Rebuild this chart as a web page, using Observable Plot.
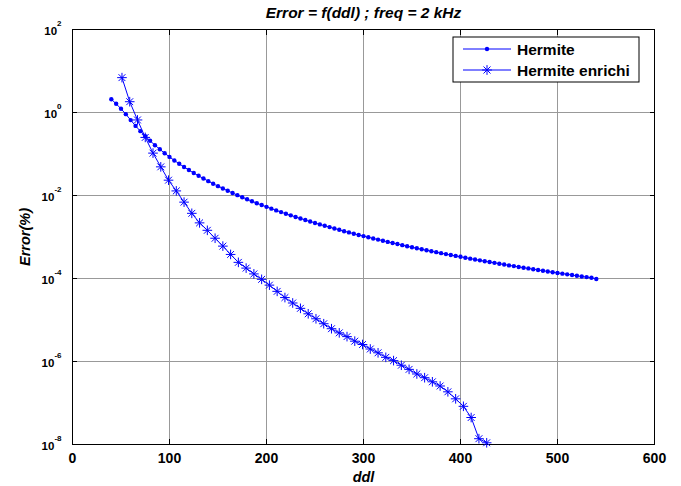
<!DOCTYPE html>
<html><head><meta charset="utf-8">
<script src="https://cdn.jsdelivr.net/npm/d3@7"></script>
<script src="https://cdn.jsdelivr.net/npm/@observablehq/plot@0.6"></script>
<style>
body{margin:0;background:#fff}
#chart{position:relative;width:681px;height:486px}
</style>
</head><body><div id="chart"></div>
<script>
const titleText = "Error = f(ddl) ; freq = 2 kHz";
const xLabel = "ddl";
const yLabel = "Error(%)";
const seriesNames = ["Hermite", "Hermite enrichi"];
const xTicks = [0, 100, 200, 300, 400, 500, 600];
const yTicks = [1e-8, 1e-6, 1e-4, 1e-2, 1, 1e2];

const hermiteDdl = [40,45,50,55,60,65,70,75,80,85,90,95,100,105,110,115,120,125,130,135,140,145,150,155,160,165,170,175,180,185,190,195,200,205,210,215,220,225,230,235,240,245,250,255,260,265,270,275,280,285,290,295,300,305,310,315,320,325,330,335,340,345,350,355,360,365,370,375,380,385,390,395,400,405,410,415,420,425,430,435,440,445,450,455,460,465,470,475,480,485,490,495,500,505,510,515,520,525,530,535,540];
const hermiteErr = [2.09,1.62,1.23,0.912,0.656,0.476,0.355,0.269,0.208,0.163,0.130,0.1045,0.0851,0.0700,0.0581,0.0486,0.0410,0.0348,0.0298,0.0256,0.0222,0.0192,0.0168,0.0148,0.0130,0.0115,0.0102,0.00908,0.00811,0.00726,0.00653,0.00589,0.00532,0.00482,0.00438,0.00398,0.00363,0.00332,0.00304,0.00279,0.00256,0.00236,0.00218,0.00201,0.00186,0.00173,0.00160,0.00149,0.00138,0.00129,0.00120,0.00112,0.00105,9.84e-4,9.20e-4,8.65e-4,8.13e-4,7.62e-4,7.18e-4,6.76e-4,6.37e-4,6.01e-4,5.68e-4,5.36e-4,5.07e-4,4.80e-4,4.54e-4,4.31e-4,4.08e-4,3.87e-4,3.68e-4,3.50e-4,3.33e-4,3.16e-4,3.01e-4,2.87e-4,2.74e-4,2.61e-4,2.49e-4,2.38e-4,2.27e-4,2.17e-4,2.07e-4,1.99e-4,1.90e-4,1.82e-4,1.75e-4,1.67e-4,1.60e-4,1.54e-4,1.48e-4,1.42e-4,1.36e-4,1.31e-4,1.26e-4,1.21e-4,1.16e-4,1.12e-4,1.08e-4,1.04e-4,0.97e-4];

const enrichiDdl = [51,59,67,75,83,91,99,107,115,123,131,139,147,155,163,171,179,187,195,203,211,219,227,235,243,251,259,267,275,283,291,299,307,315,323,331,339,347,355,363,371,379,387,395,403,411,419,427];
const enrichiErr = [6.92,1.82,0.661,0.251,0.105,0.049,0.0234,0.0129,0.00692,0.00372,0.00219,0.00145,9.33e-4,6.03e-4,3.80e-4,2.45e-4,1.78e-4,1.29e-4,9.55e-5,6.92e-5,4.90e-5,3.47e-5,2.57e-5,1.91e-5,1.41e-5,1.07e-5,8.13e-6,6.17e-6,4.90e-6,3.98e-6,3.09e-6,2.57e-6,2.00e-6,1.62e-6,1.26e-6,1.05e-6,8.13e-7,6.46e-7,5.01e-7,4.07e-7,3.24e-7,2.57e-7,1.86e-7,1.26e-7,8.32e-8,4.47e-8,1.38e-8,1.10e-8];

const hermite = hermiteDdl.map((x, i) => ({ddl: x, err: hermiteErr[i]}));
const enrichi = enrichiDdl.map((x, i) => ({ddl: x, err: enrichiErr[i]}));

const BLUE = "#0000ff";
const FONT = "'Liberation Sans', Arial, Helvetica, sans-serif";

const chart = Plot.plot({
  width: 681, height: 486,
  marginLeft: 72, marginRight: 27, marginTop: 29, marginBottom: 42,
  style: {fontFamily: FONT, fontSize: "12px", fontWeight: "bold", background: "#fff", color: "#000", overflow: "visible"},
  x: {domain: [0, 600], ticks: xTicks},
  y: {type: "log", domain: [1e-8, 1e2], ticks: yTicks},
  marks: [
    Plot.gridX(xTicks.slice(1, -1), {stroke: "#999", strokeOpacity: 1}),
    Plot.gridY(yTicks.slice(1, -1), {stroke: "#999", strokeOpacity: 1}),
    Plot.frame({stroke: "#000", strokeWidth: 1}),
    // inward tick marks on all four sides
    Plot.axisX(xTicks, {anchor: "bottom", tickSize: -5, fill: "none", label: null}),
    Plot.axisX(xTicks, {anchor: "top", tickSize: -5, fill: "none", label: null}),
    Plot.axisY(yTicks, {anchor: "left", tickSize: -5, fill: "none", label: null}),
    Plot.axisY(yTicks, {anchor: "right", tickSize: -5, fill: "none", label: null}),
    // tick labels
    Plot.axisX(xTicks, {tickSize: 0, tickPadding: 9, label: null, fontSize: 14}),
    Plot.axisY(yTicks, {tickSize: 0, tickPadding: 11, label: null, fontSize: 11.5, dy: 1.5,
      tickFormat: d => String(Math.round(Math.log10(d)))}),
    Plot.line(hermite, {x: "ddl", y: "err", stroke: BLUE, strokeWidth: 1}),
    Plot.dot(hermite, {x: "ddl", y: "err", r: 2.2, fill: BLUE, stroke: "none"}),
    Plot.line(enrichi, {x: "ddl", y: "err", stroke: BLUE, strokeWidth: 1}),
    Plot.dot(enrichi, {x: "ddl", y: "err", symbol: "plus", r: 3.2, stroke: BLUE, strokeWidth: 1}),
    Plot.dot(enrichi, {x: "ddl", y: "err", symbol: "times", r: 3.2, stroke: BLUE, strokeWidth: 1}),
    Plot.text([titleText], {frameAnchor: "top", dy: -16, textAnchor: "middle", lineAnchor: "middle",
      fontSize: 15.5, fontWeight: "bold", fontStyle: "italic"}),
    Plot.text([xLabel], {frameAnchor: "bottom", dy: 33, textAnchor: "middle", lineAnchor: "middle",
      fontSize: 14.5, fontWeight: "bold", fontStyle: "italic"}),
    Plot.text([yLabel], {frameAnchor: "left", dx: -47, rotate: -90, textAnchor: "middle", lineAnchor: "middle",
      fontSize: 14.5, fontWeight: "bold", fontStyle: "italic"})
  ]
});

document.getElementById("chart").appendChild(chart);

// superscript exponents on log y tick labels
d3.select(chart).selectAll('g[aria-label="y-axis tick label"] text').each(function() {
  const exp = this.textContent;
  const t = d3.select(this);
  t.text("10");
  t.append("tspan").attr("dy", "-9").attr("font-size", "8px").text(exp);
});

// legend box
const legLeft = 453, legTop = 37, legW = 186, legH = 45;
const lg = d3.select(chart).append("g")
  .attr("font-family", FONT).attr("font-weight", "bold").attr("font-size", 15.5)
  .attr("text-anchor", "start");
lg.append("rect").attr("x", legLeft).attr("y", legTop).attr("width", legW).attr("height", legH)
  .attr("fill", "#fff").attr("stroke", "#000").attr("stroke-width", 1);
const rows = [legTop + 12, legTop + 33];
rows.forEach((yy, i) => {
  lg.append("line").attr("x1", legLeft + 10).attr("x2", legLeft + 58).attr("y1", yy).attr("y2", yy)
    .attr("stroke", BLUE).attr("stroke-width", 1);
  const cx = legLeft + 34;
  if (i === 0) {
    lg.append("circle").attr("cx", cx).attr("cy", yy).attr("r", 2.2).attr("fill", BLUE).attr("stroke", "none");
  } else {
    const a = 4.9, b = 3.5;
    lg.append("path").attr("d", `M${cx - a},${yy}H${cx + a}M${cx},${yy - a}V${yy + a}M${cx - b},${yy - b}L${cx + b},${yy + b}M${cx - b},${yy + b}L${cx + b},${yy - b}`)
      .attr("stroke", BLUE).attr("stroke-width", 1).attr("fill", "none");
  }
  lg.append("text").attr("x", legLeft + 64).attr("y", yy).attr("dy", "0.36em")
    .attr("fill", "#000").attr("text-anchor", "start").text(seriesNames[i]);
});
</script>
</body></html>
